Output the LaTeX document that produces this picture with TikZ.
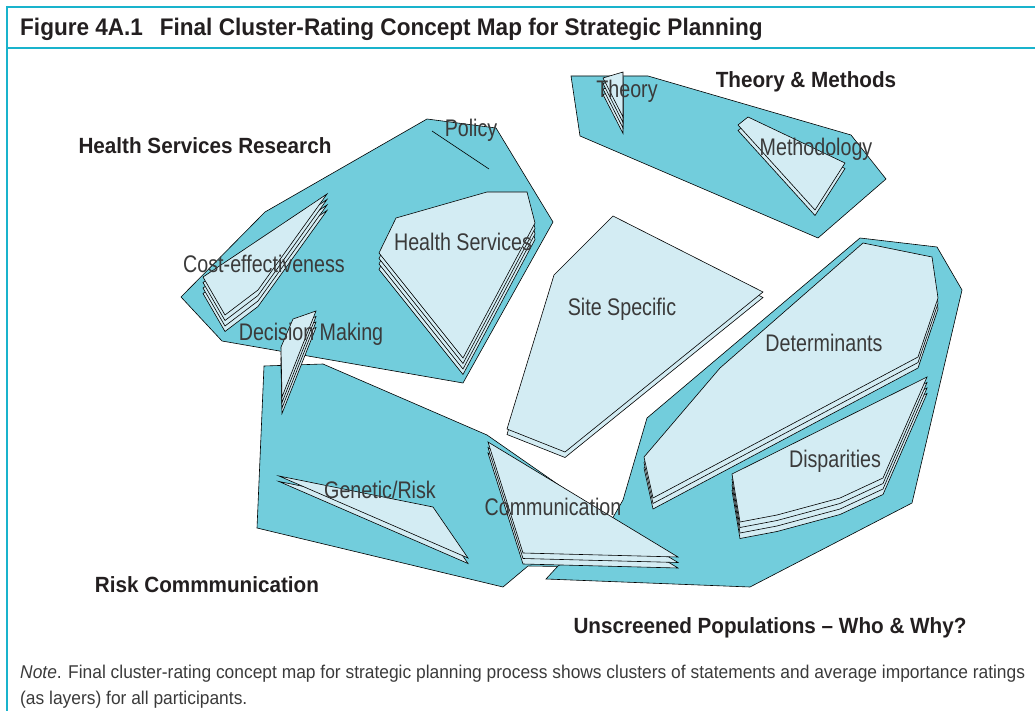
\documentclass[tikz,border=0pt]{standalone}
\usepackage{fontspec}
\newfontfamily\cond[FakeStretch=0.82]{Liberation Sans}
\newfontfamily\condb[FakeStretch=0.94]{Liberation Sans}
\definecolor{framec}{HTML}{19B3CC}
\definecolor{hullc}{HTML}{72CDDC}
\definecolor{layerc}{HTML}{D3ECF3}
\definecolor{labelc}{HTML}{3A3A3A}
\definecolor{headc}{HTML}{231F20}
% stacked rating layers: #1 = top index, #2 = polygon of the top layer
\newcommand\stack[2]{\foreach \k in {#1,...,0}{\draw[layer,shift={(0,\k*5.5)}] #2;}}
\begin{document}
\begin{tikzpicture}[x=1pt,y=-1pt,
  frame/.style={draw=framec,line width=2.5pt},
  hull/.style={draw=black,fill=hullc,line width=0.6pt},
  layer/.style={draw=black,fill=layerc,line width=0.6pt},
  lbl/.style={font=\cond\fontsize{24}{26}\selectfont,text=labelc,inner sep=0pt},
  head/.style={font=\condb\bfseries\fontsize{22}{24}\selectfont,text=headc,inner sep=0pt}]
\useasboundingbox (0,0) rectangle (1035,711);
% frame
\draw[frame] (7,6) -- (7,711);
\draw[frame] (6,7) -- (1035,7);
\draw[frame] (7,48) -- (1035,48);
\node[font=\condb\bfseries\fontsize{24}{26}\selectfont,text=headc,anchor=west,inner sep=0pt] (title) at (20,29)
  {Figure 4A.1\hspace{0.7em}Final Cluster-Rating Concept Map for Strategic Planning};
% cluster hulls
\draw[hull] (265,212) -- (427,119) -- (496,128) -- (553,222) -- (463,383) -- (222,341) -- (181,297) -- cycle;
\draw[hull] (571,76) -- (648,76) -- (851,135) -- (886,179) -- (818,238) -- (580,136) -- cycle;
\draw[hull] (264,366) -- (323,364) -- (487,435) -- (678,568) -- (528,566) -- (503,587) -- (257,528) -- cycle;
\draw[hull] (860,238) -- (937,247) -- (962,290) -- (912,503) -- (750,587) -- (546,579) -- (558,566) -- (600,540) -- (623,500) -- (647,418) -- cycle;
% statement layers
\draw[line width=0.6pt] (432,131) -- (489,169);
\stack{3}{(603,78) -- (623,72) -- (623,117) -- cycle}
\stack{1}{(748,117) -- (845,163) -- (815,210) -- (738,125) -- cycle}
\stack{3}{(396,218) -- (487,192) -- (527,192) -- (535,223) -- (463,358) -- (379,253) -- cycle}
\stack{3}{(203,277) -- (327,194) -- (258,290) -- (225,315) -- cycle}
\stack{3}{(281,347) -- (293,319) -- (316,311) -- (282,397) -- cycle}
\stack{1}{(554,275) -- (613,216) -- (763,292) -- (565,452) -- (507,429) -- cycle}
\stack{2}{(644,457) -- (720,368) -- (863,243) -- (932,257) -- (938,298) -- (918,357) -- (653,498) -- cycle}
\stack{3}{(732,474) -- (927,377) -- (883,478) -- (840,498) -- (777,515) -- (740,522) -- cycle}
\stack{1}{(279,476) -- (433,507) -- (468,558) -- cycle}
\stack{2}{(488,442) -- (678,557) -- (523,553) -- cycle}
% labels
\node[lbl] (theory) at (627,91) {Theory};
\node[lbl] (method) at (816,149) {Methodology};
\node[lbl] (policy) at (471,130) {Policy};
\node[lbl] (hserv) at (463,242) {Health Services};
\node[lbl] (cost) at (264,264) {Cost-effectiveness};
\node[lbl] (decide) at (311,334) {Decision Making};
\node[lbl] (site) at (622,309) {Site Specific};
\node[lbl] (determ) at (824,343) {Determinants};
\node[lbl] (dispar) at (835,461) {Disparities};
\node[lbl] (genetic) at (380,490) {Genetic/Risk};
\node[lbl] (comm) at (553,507) {Communication};
\node[head] (tm) at (806,82) {Theory \& Methods};
\node[head] (hsr) at (205,146) {Health Services Research};
\node[head] (rc) at (207,585) {Risk Commmunication};
\node[head] (up) at (770,628) {Unscreened Populations – Who \& Why?};
% note
\node[font=\condb\fontsize{18.5}{26}\selectfont,text=labelc,anchor=north west,align=left,inner sep=0pt] (note) at (20,665)
  {\textit{Note}. Final cluster-rating concept map for strategic planning process shows clusters of statements and average importance ratings\\
   (as layers) for all participants.};
\end{tikzpicture}
\end{document}
